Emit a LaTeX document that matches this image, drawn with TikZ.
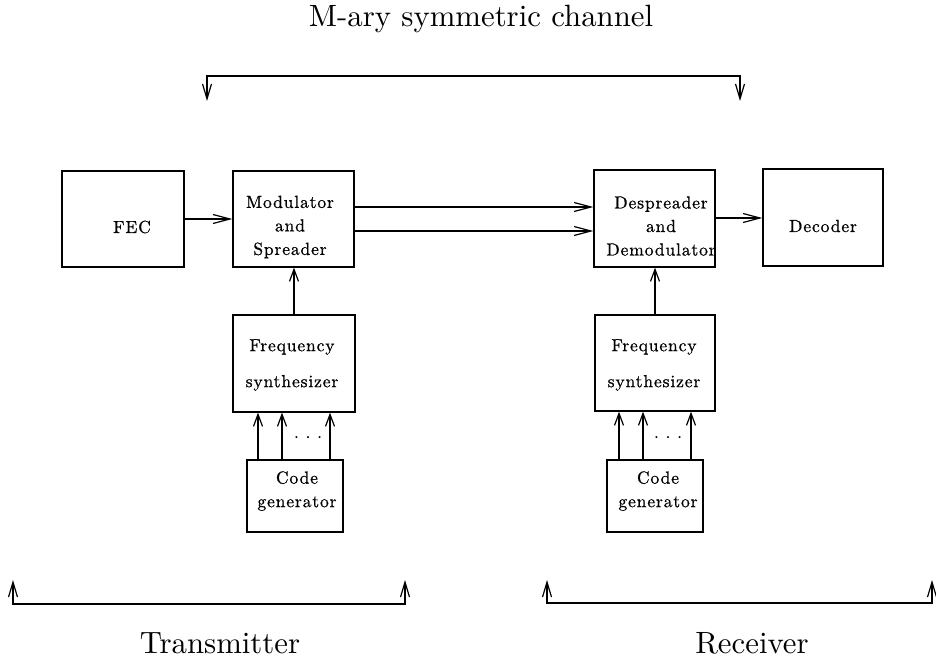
\documentclass[tikz,border=0pt]{standalone}
\usepackage{fontspec}
\usetikzlibrary{arrows.meta,calc}
% spaced-out face for the block labels
\newfontfamily\blockfamily{lmroman10-regular.otf}[LetterSpace=5,FakeBold=0.8]
\newcommand\blockfont{\blockfamily\fontsize{17.5}{23.5}\selectfont}

\begin{document}
\begin{tikzpicture}[x=1pt,y=-1pt,
  blk/.style={draw, line width=1.3pt, rectangle, inner sep=0pt},
  txt/.style={align=center, inner sep=0pt, font=\blockfont},
  big/.style={inner sep=0pt, scale=3.08, font=\fontsize{10}{12}\selectfont},
  flow/.style={line width=1.2pt,
    -{Straight Barb[length=17pt,width=9pt,line width=1.2pt]}},
  feed/.style={line width=1.2pt,
    -{Straight Barb[length=12pt,width=9pt,line width=1.2pt]}},
  brk/.style={line width=1.3pt,
    {Straight Barb[length=15pt,width=9pt,line width=1.2pt]}-{Straight Barb[length=15pt,width=9pt,line width=1.2pt]}}
]
\useasboundingbox (0,0) rectangle (936,660);

% ---- blocks ----
\node[blk, minimum width=122pt, minimum height=96pt] (fec)  at (123,219) {};
\node[txt] (fec-t) at (132,227) {FEC};
\node[blk, minimum width=121pt, minimum height=96pt] (mod)  at (293.5,219) {};
\node[txt] (mod-t) at (290,227) {Modulator\\and\\Spreader};
\node[blk, minimum width=121pt, minimum height=97pt] (desp) at (654.5,218.5) {};
\node[txt] (desp-t) at (661,226) {Despreader\\and\\Demodulator};
\node[blk, minimum width=120pt, minimum height=97pt] (dec)  at (823,217.5) {};
\node[txt] (dec-t) at (823,226) {Decoder};

\node[blk, minimum width=122pt, minimum height=97pt] (synL) at (294,363.5) {};
\node[txt] (synL-t) at (292,365) {Frequency\\[12.5pt]synthesizer};
\node[blk, minimum width=120pt, minimum height=96pt] (synR) at (655,363) {};
\node[txt] (synR-t) at (654,365) {Frequency\\[12.5pt]synthesizer};

\node[blk, minimum width=96pt, minimum height=72pt] (cgL) at (295,496) {};
\node[txt] (cgL-t) at (297,491) {Code\\generator};
\node[blk, minimum width=96pt, minimum height=72pt] (cgR) at (655,496) {};
\node[txt] (cgR-t) at (658,491) {Code\\generator};

\node[txt, anchor=base] (dotsL) at (308,438) {.\ .\ .};
\node[txt, anchor=base] (dotsR) at (668,438) {.\ .\ .};

% ---- signal flow ----
\draw[flow] (fec.east) -- (mod.west);
\draw[flow] ([yshift=12pt]mod.east) -- ([yshift=12pt]mod.east -| desp.west);
\draw[flow] ([yshift=-12pt]mod.east) -- ([yshift=-12pt]mod.east -| desp.west);
\draw[flow] ([yshift=0.5pt]desp.east) -- ([yshift=0.5pt]desp.east -| dec.west);

\draw[feed] (synL.north) -- (synL.north |- mod.south);
\draw[feed] (synR.north) -- (synR.north |- desp.south);

\foreach \dx in {-37,-13,35}
  \draw[feed] ([xshift=\dx pt]cgL.north) -- ([xshift=\dx pt]cgL.north |- synL.south);
\foreach \dx in {-36,-12,36}
  \draw[feed] ([xshift=\dx pt]cgR.north) -- ([xshift=\dx pt]cgR.north |- synR.south);

% ---- braces for channel, transmitter and receiver ----
\coordinate (ch-l) at (207,101);
\coordinate (ch-r) at (740,101);
\draw[brk] (ch-l) -- ++(0,-25) -| (ch-r);

\coordinate (tx-l) at (13,580);
\coordinate (tx-r) at (405,580);
\draw[brk] (tx-l) -- ++(0,24) -| (tx-r);

\coordinate (rx-l) at (547,580);
\coordinate (rx-r) at (932,580);
\draw[brk] (rx-l) -- ++(0,23) -| (rx-r);

\node[big, anchor=base] (chan) at (481,27)  {M-ary symmetric channel};
\node[big, anchor=base] (tx)   at (220,653) {Transmitter};
\node[big, anchor=base] (rx)   at (752,653) {Receiver};
\end{tikzpicture}
\end{document}
